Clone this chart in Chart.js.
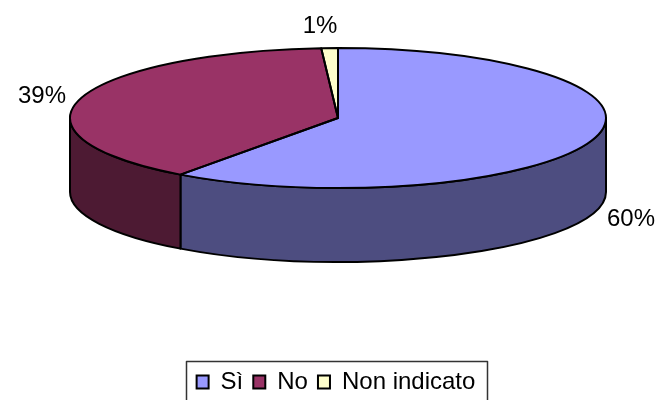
<!DOCTYPE html>
<html>
<head>
<meta charset="utf-8">
<style>html,body{margin:0;padding:0;background:#fff}canvas{display:block}</style>
<script src="https://cdn.jsdelivr.net/npm/chart.js@4"></script>
</head>
<body>
<canvas id="c" width="657" height="400"></canvas>
<script>
const categories = ['Sì', 'No', 'Non indicato'];
const shares = [60, 39, 1];
const topColors = ['#9999ff', '#993366', '#ffffcc'];
const wallColors = ['#4d4d80', '#4d1a33', '#80806a'];

// Tilted disc geometry in canvas pixels
const disc = { cx: 338, cy: 118, rx: 268, ry: 70, depth: 74 };
const labelCentres = [[631, 219], [42, 96], [320, 26]];
const FONT = '"Liberation Sans", Arial, sans-serif';

const arcs = chart => chart.getDatasetMeta(0).data;

const tiltedPie = {
  id: 'tiltedPie',
  // Side wall: only the part of each slice facing the viewer (canvas angles 0..PI)
  beforeDatasetsDraw(chart) {
    const { ctx } = chart;
    const { cx, cy, rx, ry, depth } = disc;
    ctx.save();
    ctx.strokeStyle = '#000';
    ctx.lineWidth = 2;
    ctx.lineJoin = 'round';
    arcs(chart).forEach((arc, i) => {
      const a = Math.max(arc.startAngle, 0);
      const b = Math.min(arc.endAngle, Math.PI);
      if (b <= a) return;
      ctx.beginPath();
      ctx.ellipse(cx, cy, rx, ry, 0, a, b);
      ctx.ellipse(cx, cy + depth, rx, ry, 0, b, a, true);
      ctx.closePath();
      ctx.fillStyle = wallColors[i];
      ctx.fill();
      ctx.stroke();
    });
    ctx.restore();
  },
  // The round pie is squashed into the disc's top face
  beforeDatasetDraw(chart) {
    const { ctx } = chart;
    const arc = arcs(chart)[0];
    ctx.save();
    ctx.translate(disc.cx, disc.cy);
    ctx.scale(disc.rx / arc.outerRadius, disc.ry / arc.outerRadius);
    ctx.translate(-arc.x, -arc.y);
  },
  afterDatasetDraw(chart) {
    chart.ctx.restore();
  },
  afterDatasetsDraw(chart) {
    const { ctx } = chart;
    const { cx, cy, rx, ry } = disc;
    ctx.save();
    ctx.strokeStyle = '#000';
    ctx.lineWidth = 2;
    ctx.lineJoin = 'round';
    arcs(chart).forEach(arc => {
      ctx.beginPath();
      ctx.moveTo(cx, cy);
      ctx.ellipse(cx, cy, rx, ry, 0, arc.startAngle, arc.endAngle);
      ctx.closePath();
      ctx.stroke();
    });
    // Percentage labels
    const total = shares.reduce((s, v) => s + v, 0);
    ctx.fillStyle = '#000';
    ctx.font = '24px ' + FONT;
    ctx.textAlign = 'center';
    ctx.textBaseline = 'middle';
    shares.forEach((v, i) => {
      const [x, y] = labelCentres[i];
      ctx.fillText(Math.round(v / total * 100) + '%', x, y);
    });
    // Legend frame, open at the bottom where the canvas ends
    const boxes = chart.legend.legendHitBoxes;
    const left = Math.round(Math.min(...boxes.map(b => b.left)) - 11);
    const right = Math.round(Math.max(...boxes.map(b => b.left + b.width)) + 12);
    ctx.strokeStyle = '#333';
    ctx.lineWidth = 1.5;
    ctx.beginPath();
    ctx.moveTo(left + 0.5, 402);
    ctx.lineTo(left + 0.5, 361.5);
    ctx.lineTo(right + 0.5, 361.5);
    ctx.lineTo(right + 0.5, 402);
    ctx.stroke();
    ctx.restore();
  }
};

new Chart(document.getElementById('c'), {
  type: 'pie',
  data: {
    labels: categories,
    datasets: [{ data: shares, backgroundColor: topColors, borderWidth: 0 }]
  },
  plugins: [tiltedPie],
  options: {
    responsive: false,
    animation: false,
    layout: { padding: { left: 15, bottom: -4 } },
    plugins: {
      tooltip: { enabled: false },
      legend: {
        position: 'bottom',
        labels: {
          boxWidth: 12,
          boxHeight: 13,
          padding: 10,
          color: '#000',
          font: { family: FONT, size: 24 },
          generateLabels: chart => categories.map((text, i) => ({
            text,
            fillStyle: topColors[i],
            strokeStyle: '#000',
            lineWidth: 2,
            index: i
          }))
        }
      }
    }
  }
});
</script>
</body>
</html>
